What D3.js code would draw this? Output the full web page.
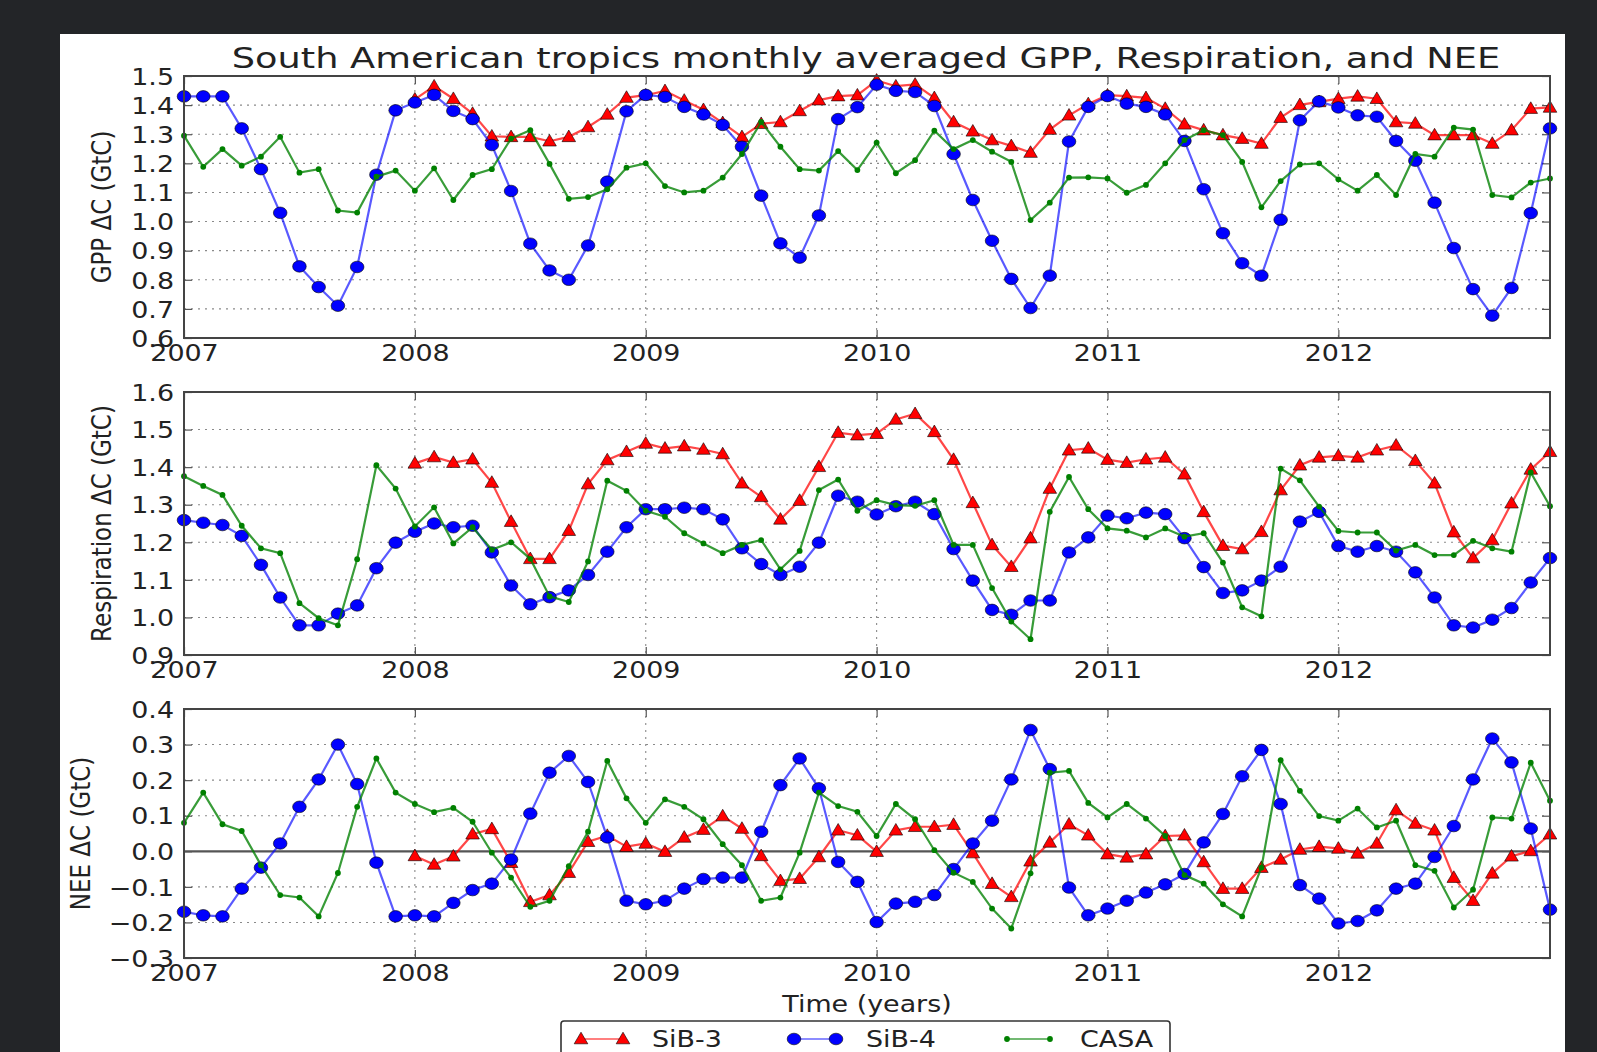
<!DOCTYPE html>
<html>
<head>
<meta charset="utf-8">
<script src="https://cdn.jsdelivr.net/npm/d3@7"></script>
<style>
  html, body { margin: 0; padding: 0; background: #232528; }
  svg { display: block; }
  text { font-family: "DejaVu Sans", sans-serif; fill: #222; }
</style>
</head>
<body>
<div id="chart"></div>
<script>
// ---- data: monthly values, 2007-01 .. 2012-12 (SiB-3 starts 2008-01) ----
const startYear = 2007;
const sib3Start = 2008;
const yearTicks = [2007, 2008, 2009, 2010, 2011, 2012];
const gppTicks  = [0.6, 0.7, 0.8, 0.9, 1.0, 1.1, 1.2, 1.3, 1.4, 1.5];
const respTicks = [0.9, 1.0, 1.1, 1.2, 1.3, 1.4, 1.5, 1.6];
const neeTicks  = [-0.3, -0.2, -0.1, 0.0, 0.1, 0.2, 0.3, 0.4];
const seriesNames = ["SiB-3", "SiB-4", "CASA"];

const gppSib3 = [1.42,1.465,1.422,1.371,1.293,1.291,1.291,1.276,1.291,1.325,
  1.368,1.426,1.434,1.449,1.416,1.384,1.339,1.291,1.336,1.342,
  1.38,1.417,1.431,1.434,1.485,1.465,1.471,1.425,1.342,1.31,
  1.28,1.26,1.237,1.316,1.365,1.404,1.434,1.431,1.425,1.388,
  1.334,1.314,1.297,1.285,1.268,1.357,1.401,1.411,1.422,1.43,
  1.422,1.342,1.337,1.297,1.297,1.297,1.268,1.314,1.388,1.392];
const gppSib4 = [1.43,1.43,1.43,1.32,1.18,1.03,0.846,0.775,0.711,0.844,1.161,1.382,
  1.409,1.435,1.38,1.352,1.263,1.105,0.924,0.832,0.80,0.918,1.137,1.379,
  1.435,1.428,1.394,1.368,1.332,1.257,1.089,0.925,0.876,1.021,1.352,1.393,
  1.47,1.449,1.445,1.397,1.232,1.074,0.934,0.803,0.703,0.814,1.275,1.394,
  1.431,1.405,1.394,1.368,1.277,1.111,0.96,0.857,0.814,1.006,1.348,1.413,
  1.392,1.365,1.36,1.277,1.209,1.065,0.909,0.768,0.677,0.772,1.029,1.32];
const gppCasa = [1.295,1.188,1.249,1.192,1.223,1.291,1.168,1.18,1.038,1.031,1.154,1.175,
  1.106,1.183,1.074,1.16,1.18,1.285,1.314,1.198,1.078,1.084,1.111,1.185,
  1.2,1.122,1.1,1.106,1.151,1.232,1.342,1.257,1.18,1.175,1.242,1.177,
  1.271,1.166,1.211,1.312,1.249,1.28,1.24,1.205,1.005,1.065,1.151,1.152,
  1.148,1.099,1.126,1.2,1.28,1.314,1.297,1.205,1.049,1.139,1.196,1.2,
  1.145,1.106,1.16,1.091,1.232,1.223,1.323,1.316,1.091,1.083,1.134,1.148];

const respSib3 = [1.41,1.427,1.412,1.421,1.359,1.255,1.156,1.156,1.231,1.355,
  1.419,1.441,1.463,1.45,1.456,1.447,1.435,1.357,1.321,1.261,
  1.311,1.401,1.492,1.485,1.489,1.527,1.542,1.494,1.42,1.305,
  1.193,1.135,1.211,1.343,1.445,1.45,1.42,1.412,1.421,1.426,
  1.381,1.281,1.191,1.182,1.228,1.339,1.405,1.426,1.43,1.426,
  1.445,1.458,1.417,1.357,1.227,1.158,1.206,1.304,1.394,1.441];
const respSib4 = [1.259,1.252,1.246,1.217,1.14,1.053,0.979,0.979,1.01,1.032,1.131,1.199,
  1.228,1.25,1.24,1.244,1.173,1.085,1.035,1.054,1.072,1.113,1.175,1.24,
  1.288,1.288,1.292,1.288,1.261,1.184,1.142,1.113,1.135,1.199,1.324,1.308,
  1.274,1.296,1.308,1.275,1.182,1.098,1.02,1.007,1.045,1.045,1.173,1.213,
  1.271,1.264,1.279,1.275,1.211,1.134,1.065,1.072,1.098,1.135,1.255,1.281,
  1.19,1.175,1.19,1.175,1.12,1.053,0.979,0.973,0.994,1.025,1.093,1.158];
const respCasa = [1.376,1.35,1.326,1.244,1.184,1.171,1.038,0.998,0.979,1.155,1.405,1.343,
  1.242,1.293,1.197,1.24,1.18,1.2,1.156,1.056,1.041,1.149,1.364,1.337,
  1.284,1.268,1.224,1.197,1.171,1.193,1.206,1.128,1.177,1.339,1.367,1.284,
  1.312,1.299,1.297,1.312,1.193,1.193,1.078,0.989,0.942,1.281,1.374,1.288,
  1.237,1.231,1.213,1.237,1.215,1.224,1.146,1.027,1.003,1.396,1.365,1.295,
  1.23,1.226,1.226,1.178,1.193,1.166,1.166,1.204,1.184,1.175,1.386,1.296];

const neeSib3 = [-0.013,-0.037,-0.014,0.048,0.063,-0.032,-0.142,-0.123,-0.06,0.027,
  0.044,0.013,0.022,-0.001,0.039,0.061,0.099,0.064,-0.013,-0.083,
  -0.077,-0.016,0.059,0.045,-0.001,0.059,0.069,0.069,0.075,-0.005,
  -0.091,-0.128,-0.028,0.025,0.076,0.045,-0.008,-0.017,-0.008,0.043,
  0.045,-0.03,-0.105,-0.105,-0.046,-0.023,0.005,0.013,0.008,-0.006,
  0.022,0.116,0.078,0.059,-0.074,-0.139,-0.062,-0.014,0.001,0.048];
const neeSib4 = [-0.17,-0.18,-0.183,-0.105,-0.046,0.022,0.125,0.202,0.3,0.189,-0.032,-0.183,
  -0.18,-0.183,-0.145,-0.109,-0.091,-0.023,0.106,0.221,0.268,0.195,0.039,-0.139,
  -0.149,-0.139,-0.105,-0.078,-0.074,-0.074,0.055,0.186,0.261,0.177,-0.03,-0.086,
  -0.199,-0.147,-0.142,-0.123,-0.05,0.022,0.086,0.202,0.341,0.231,-0.102,-0.18,
  -0.161,-0.139,-0.116,-0.093,-0.064,0.025,0.105,0.211,0.285,0.133,-0.095,-0.133,
  -0.203,-0.196,-0.166,-0.105,-0.091,-0.016,0.071,0.202,0.317,0.25,0.064,-0.164];
const neeCasa = [0.08,0.165,0.076,0.057,-0.039,-0.123,-0.13,-0.183,-0.061,0.125,0.261,0.165,
  0.133,0.11,0.122,0.083,-0.004,-0.074,-0.156,-0.139,-0.042,0.055,0.254,0.149,
  0.08,0.146,0.125,0.09,0.02,-0.039,-0.139,-0.13,-0.004,0.165,0.127,0.111,
  0.043,0.133,0.09,0.003,-0.06,-0.086,-0.161,-0.217,-0.062,0.221,0.226,0.136,
  0.095,0.133,0.092,0.043,-0.067,-0.091,-0.149,-0.183,-0.046,0.256,0.17,0.099,
  0.086,0.12,0.067,0.086,-0.039,-0.055,-0.158,-0.108,0.095,0.092,0.249,0.142];

// ---- layout ----
const W = 1597, H = 1052;
const SX = 1.17;          // the original figure is stretched sideways
const FS = 23;            // tick / label font size
const left = 184, right = 1550;

const svg = d3.select("#chart").append("svg")
  .attr("width", W).attr("height", H)
  .attr("viewBox", "0 0 " + W + " " + H);

svg.append("rect").attr("width", W).attr("height", H).attr("fill", "#232528");
svg.append("rect").attr("x", 60).attr("y", 34)
  .attr("width", 1505).attr("height", H - 34 + 10).attr("fill", "#fff");

const x = d3.scaleLinear()
  .domain([startYear, startYear + 71 / 12])
  .range([left, right]);

// turn a value array into [{t, v}] points
function toPoints(arr, firstYear){
  return arr.map((v, i) => ({t: firstYear + i / 12, v: v}));
}

// text stretched sideways, anchored at (px, py)
function sText(g, str, px, py, anchor, size, rot){
  return g.append("text")
    .attr("transform", "translate(" + px + "," + py + ") scale(" + SX + ",1)" + (rot ? " rotate(" + rot + ")" : ""))
    .attr("text-anchor", anchor)
    .style("font-size", size + "px")
    .text(str);
}

const panels = [
  {top: 76,  bottom: 338, ticks: gppTicks,  label: "GPP \u0394C (GtC)",        labelX: 111,
   data: [gppSib3, gppSib4, gppCasa]},
  {top: 392, bottom: 655, ticks: respTicks, label: "Respiration \u0394C (GtC)", labelX: 111,
   data: [respSib3, respSib4, respCasa]},
  {top: 709, bottom: 958, ticks: neeTicks,  label: "NEE \u0394C (GtC)",        labelX: 90,
   data: [neeSib3, neeSib4, neeCasa], zero: true}
];

const red = "#ff0000", blue = "#0000ff", green = "#008000";

function triangle(g, cx, cy){
  g.append("path")
    .attr("d", "M" + cx + "," + (cy - 6.8) + " L" + (cx + 6.8) + "," + (cy + 4.8) + " L" + (cx - 6.8) + "," + (cy + 4.8) + " Z")
    .attr("fill", red).attr("stroke", "#000").attr("stroke-width", 0.6);
}
function dot(g, cx, cy){
  g.append("ellipse").attr("cx", cx).attr("cy", cy).attr("rx", 6.8).attr("ry", 5.8)
    .attr("fill", blue).attr("stroke", "#000").attr("stroke-width", 0.6);
}
function small(g, cx, cy){
  g.append("circle").attr("cx", cx).attr("cy", cy).attr("r", 2.9).attr("fill", green);
}

panels.forEach(p => {
  const ticks = p.ticks;
  const y = d3.scaleLinear().domain([ticks[0], ticks[ticks.length - 1]]).range([p.bottom, p.top]);
  const g = svg.append("g");

  // dotted grid
  const grid = g.append("g").attr("stroke", "#8a8a8a").attr("stroke-width", 1.1)
    .attr("stroke-dasharray", "2,5").attr("fill", "none");
  yearTicks.slice(1).forEach(t => {
    grid.append("line").attr("x1", x(t)).attr("x2", x(t)).attr("y1", p.top).attr("y2", p.bottom);
  });
  ticks.slice(1, -1).forEach(t => {
    if (p.zero && t === 0) return;
    grid.append("line").attr("x1", left).attr("x2", right).attr("y1", y(t)).attr("y2", y(t));
  });

  if (p.zero){
    g.append("line").attr("x1", left).attr("x2", right).attr("y1", y(0)).attr("y2", y(0))
      .attr("stroke", "#555").attr("stroke-width", 2.2);
  }

  // axes with inward ticks
  const yl = g.append("g").attr("transform", "translate(" + left + ",0)")
    .call(d3.axisLeft(y).tickValues(ticks).tickSize(-8).tickPadding(0).tickFormat(d3.format(".1f")));
  const yr = g.append("g").attr("transform", "translate(" + right + ",0)")
    .call(d3.axisRight(y).tickValues(ticks).tickSize(-8).tickFormat(""));
  const xb = g.append("g").attr("transform", "translate(0," + p.bottom + ")")
    .call(d3.axisBottom(x).tickValues(yearTicks).tickSize(-8).tickFormat(d3.format("d")));
  const xt = g.append("g").attr("transform", "translate(0," + p.top + ")")
    .call(d3.axisTop(x).tickValues(yearTicks).tickSize(-8).tickFormat(""));
  [yl, yr, xb, xt].forEach(a => {
    a.select(".domain").remove();
    a.selectAll(".tick line").attr("stroke", "#555").attr("stroke-width", 1.2);
  });
  yl.selectAll(".tick text")
    .attr("x", -10 / SX).attr("dy", "0.36em")
    .attr("transform", "scale(" + SX + ",1)")
    .style("font-size", FS + "px").style("font-family", "DejaVu Sans").attr("fill", "#222");
  xb.selectAll(".tick text")
    .attr("y", 23.5).attr("dy", 0)
    .attr("transform", "scale(" + SX + ",1)")
    .style("font-size", FS + "px").style("font-family", "DejaVu Sans").attr("fill", "#222");

  // series
  const line = d3.line().x(d => x(d.t)).y(d => y(d.v));
  const s3 = toPoints(p.data[0], sib3Start);
  const s4 = toPoints(p.data[1], startYear);
  const sc = toPoints(p.data[2], startYear);

  g.append("path").datum(s3).attr("d", line).attr("fill", "none")
    .attr("stroke", red).attr("stroke-opacity", 0.72).attr("stroke-width", 2.2);
  s3.forEach(d => triangle(g, x(d.t), y(d.v)));

  g.append("path").datum(s4).attr("d", line).attr("fill", "none")
    .attr("stroke", blue).attr("stroke-opacity", 0.65).attr("stroke-width", 2.2);
  s4.forEach(d => dot(g, x(d.t), y(d.v)));

  g.append("path").datum(sc).attr("d", line).attr("fill", "none")
    .attr("stroke", green).attr("stroke-opacity", 0.78).attr("stroke-width", 2.2);
  sc.forEach(d => small(g, x(d.t), y(d.v)));

  // frame
  g.append("rect").attr("x", left).attr("y", p.top)
    .attr("width", right - left).attr("height", p.bottom - p.top)
    .attr("fill", "none").attr("stroke", "#444").attr("stroke-width", 2);

  // y label
  sText(g, p.label, p.labelX, (p.top + p.bottom) / 2, "middle", FS, -90);
});

// title, fitted to the width it has in the picture
const title = sText(svg, "South American tropics monthly averaged GPP, Respiration, and NEE",
  866, 68, "middle", 28.5);
const tw = title.node().getComputedTextLength();
title.attr("transform", "translate(866,68) scale(" + (1268 / tw) + ",1)");

sText(svg, "Time (years)", 867, 1012, "middle", FS);

// legend
const lg = svg.append("g");
lg.append("rect").attr("x", 561).attr("y", 1021).attr("width", 609).attr("height", 60)
  .attr("rx", 3).attr("fill", "#fff").attr("stroke", "#333").attr("stroke-width", 1.6);
const ly = 1039;
lg.append("line").attr("x1", 581).attr("x2", 623).attr("y1", ly).attr("y2", ly)
  .attr("stroke", red).attr("stroke-opacity", 0.5).attr("stroke-width", 2.2);
triangle(lg, 581, ly); triangle(lg, 623, ly);
sText(lg, seriesNames[0], 652, ly + 8, "start", FS);
lg.append("line").attr("x1", 794).attr("x2", 836).attr("y1", ly).attr("y2", ly)
  .attr("stroke", blue).attr("stroke-opacity", 0.45).attr("stroke-width", 2.2);
dot(lg, 794, ly); dot(lg, 836, ly);
sText(lg, seriesNames[1], 866, ly + 8, "start", FS);
lg.append("line").attr("x1", 1007).attr("x2", 1050).attr("y1", ly).attr("y2", ly)
  .attr("stroke", green).attr("stroke-opacity", 0.55).attr("stroke-width", 2.2);
small(lg, 1007, ly); small(lg, 1050, ly);
sText(lg, seriesNames[2], 1080, ly + 8, "start", FS);
</script>
</body>
</html>
